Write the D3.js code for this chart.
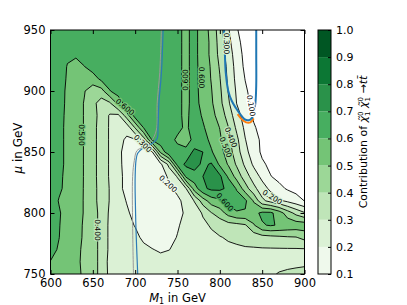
<!DOCTYPE html>
<html>
<head>
<meta charset="utf-8">
<script src="https://cdn.jsdelivr.net/npm/d3@7"></script>
<style>
    body { margin: 0; background: #fff; }
    text { font-family: "DejaVu Sans", sans-serif; }
</style>
</head>
<body>
<script>
(function(){

    //grid of the scan: M1 columns and mu rows (top row first)
    var m1Grid = [600, 610, 620, 630, 640, 650, 660, 670, 680, 690, 700, 710, 720, 730, 740, 750,
        760, 770, 780, 790, 800, 810, 820, 830, 840, 850, 860, 870, 880, 890, 900];
    var muGrid = [950, 940, 930, 920, 910, 900, 890, 880, 870, 860, 850, 840, 830, 820, 810, 800,
        790, 780, 770, 760, 750];

    //contribution of chi chi -> tt, one row per mu value
    var contribution = [
        [0.65,0.65,0.65,0.65,0.65,0.65,0.65,0.65,0.65,0.65,0.65,0.65,0.65,0.65,0.65,0.62,0.58,0.63,0.55,0.47,0.35,0.21,0.11,0.04,0.03,0.03,0.03,0.03,0.03,0.03,0.03],
        [0.65,0.65,0.65,0.65,0.65,0.65,0.65,0.65,0.65,0.65,0.65,0.65,0.65,0.65,0.65,0.62,0.58,0.63,0.55,0.48,0.36,0.23,0.13,0.06,0.03,0.03,0.03,0.03,0.03,0.03,0.03],
        [0.65,0.65,0.615,0.615,0.64,0.65,0.65,0.65,0.65,0.65,0.65,0.65,0.65,0.65,0.65,0.62,0.58,0.63,0.55,0.48,0.37,0.25,0.15,0.07,0.04,0.03,0.03,0.03,0.03,0.03,0.03],
        [0.66,0.65,0.595,0.565,0.598,0.65,0.65,0.65,0.65,0.65,0.65,0.65,0.65,0.65,0.65,0.62,0.58,0.63,0.556,0.49,0.39,0.27,0.16,0.08,0.04,0.03,0.03,0.03,0.03,0.03,0.03],
        [0.66,0.645,0.59,0.55,0.51,0.55,0.625,0.65,0.65,0.65,0.65,0.65,0.65,0.65,0.65,0.62,0.58,0.63,0.56,0.495,0.405,0.28,0.17,0.097,0.05,0.03,0.03,0.03,0.03,0.03,0.03],
        [0.66,0.635,0.585,0.545,0.505,0.45,0.46,0.595,0.65,0.65,0.65,0.65,0.65,0.65,0.65,0.62,0.58,0.63,0.565,0.505,0.42,0.295,0.185,0.115,0.06,0.04,0.03,0.03,0.03,0.03,0.03],
        [0.66,0.63,0.585,0.54,0.495,0.43,0.355,0.385,0.53,0.655,0.65,0.65,0.65,0.65,0.65,0.62,0.58,0.63,0.573,0.514,0.43,0.317,0.197,0.13,0.075,0.05,0.03,0.03,0.03,0.03,0.03],
        [0.66,0.63,0.58,0.54,0.495,0.43,0.37,0.29,0.28,0.45,0.65,0.65,0.65,0.65,0.65,0.62,0.58,0.64,0.59,0.532,0.46,0.36,0.239,0.154,0.087,0.06,0.045,0.03,0.03,0.03,0.03],
        [0.66,0.625,0.58,0.54,0.495,0.43,0.36,0.29,0.235,0.235,0.41,0.605,0.65,0.66,0.66,0.63,0.58,0.65,0.61,0.56,0.497,0.403,0.28,0.178,0.11,0.07,0.05,0.03,0.03,0.03,0.03],
        [0.66,0.625,0.58,0.54,0.495,0.43,0.36,0.29,0.23,0.185,0.19,0.35,0.61,0.67,0.64,0.58,0.57,0.62,0.64,0.576,0.516,0.43,0.323,0.204,0.129,0.085,0.06,0.045,0.03,0.03,0.03],
        [0.66,0.625,0.58,0.54,0.495,0.43,0.36,0.29,0.225,0.16,0.13,0.14,0.19,0.52,0.68,0.64,0.62,0.73,0.7,0.61,0.538,0.45,0.343,0.231,0.146,0.084,0.065,0.05,0.04,0.03,0.03],
        [0.66,0.625,0.58,0.54,0.495,0.43,0.36,0.29,0.225,0.165,0.13,0.12,0.13,0.18,0.33,0.64,0.72,0.74,0.68,0.71,0.58,0.49,0.384,0.279,0.182,0.114,0.08,0.06,0.05,0.04,0.035],
        [0.66,0.62,0.575,0.54,0.495,0.43,0.36,0.29,0.23,0.17,0.13,0.12,0.12,0.14,0.22,0.31,0.62,0.66,0.7,0.74,0.72,0.585,0.46,0.347,0.253,0.173,0.103,0.075,0.06,0.05,0.04],
        [0.66,0.615,0.575,0.535,0.495,0.43,0.365,0.295,0.23,0.17,0.13,0.12,0.12,0.13,0.18,0.225,0.295,0.55,0.68,0.72,0.72,0.68,0.59,0.447,0.329,0.244,0.178,0.124,0.09,0.07,0.055],
        [0.65,0.595,0.565,0.53,0.495,0.43,0.365,0.295,0.245,0.195,0.14,0.12,0.12,0.12,0.14,0.18,0.23,0.305,0.45,0.55,0.58,0.64,0.65,0.62,0.49,0.322,0.265,0.22,0.178,0.14,0.098],
        [0.64,0.61,0.56,0.53,0.495,0.44,0.37,0.285,0.25,0.215,0.17,0.14,0.13,0.13,0.14,0.17,0.215,0.25,0.31,0.395,0.45,0.54,0.59,0.59,0.57,0.62,0.62,0.55,0.45,0.37,0.31],
        [0.64,0.605,0.56,0.53,0.49,0.44,0.37,0.28,0.25,0.23,0.195,0.16,0.15,0.15,0.16,0.19,0.23,0.26,0.28,0.31,0.34,0.36,0.37,0.39,0.49,0.59,0.61,0.59,0.57,0.56,0.56],
        [0.64,0.602,0.555,0.525,0.49,0.44,0.37,0.28,0.255,0.24,0.225,0.18,0.15,0.15,0.17,0.205,0.24,0.26,0.27,0.28,0.295,0.31,0.32,0.33,0.34,0.36,0.37,0.38,0.39,0.395,0.43],
        [0.63,0.59,0.55,0.52,0.485,0.44,0.37,0.28,0.26,0.25,0.24,0.225,0.205,0.185,0.198,0.22,0.245,0.26,0.265,0.27,0.275,0.28,0.285,0.29,0.29,0.29,0.29,0.29,0.29,0.29,0.29],
        [0.597,0.57,0.545,0.515,0.485,0.44,0.37,0.27,0.26,0.255,0.25,0.245,0.24,0.24,0.24,0.245,0.25,0.255,0.26,0.26,0.265,0.265,0.27,0.27,0.27,0.27,0.27,0.275,0.275,0.28,0.28],
        [0.57,0.555,0.535,0.515,0.49,0.44,0.37,0.275,0.26,0.255,0.25,0.25,0.25,0.25,0.25,0.25,0.25,0.255,0.26,0.26,0.265,0.265,0.27,0.27,0.275,0.28,0.29,0.305,0.315,0.32,0.33]
    ];

    //contour levels and tick labels
    var levels = [0.1, 0.2, 0.3, 0.4, 0.5, 0.6, 0.7, 0.8, 0.9, 1.0];
    var xTicks = [600, 650, 700, 750, 800, 850, 900];
    var yTicks = [750, 800, 850, 900, 950];

    //overlaid constraint curves (M1, mu)
    var blueLine = [[733,950],[731,915],[728,890],[727,870],[726,861],[720,857],[709,853],[703,849],
        [701,843],[700,830],[700,816],[701,786],[703,750]];
    var grayLine = [[731,950],[729,915],[726,890],[725,868],[719,859],[709,854],[702,851],
        [699,843],[697,830],[697,790],[698,750]];
    var blueU = [[805,950],[806,930],[807,915],[810,900],[814,892],[819,886],[824,881],[829,877],
        [834,876],[838,878],[840,882],[842,890],[843,905],[843,930],[843,950]];
    var orangeArc = [[821,881],[826,876.8],[831,874.3],[836,874.3],[840,877.5]];

    //inline contour labels: text, M1, mu, angle
    var contourLabels = [
        ["0.600", 688, 887, 40], ["0.300", 709, 857, 45], ["0.500", 637, 864, 90],
        ["0.400", 656, 786, 90], ["0.200", 739, 824, 42], ["0.600", 759, 909, -90],
        ["0.600", 779, 911, 90], ["0.300", 808, 939, 90], ["0.100", 837, 888, 80],
        ["0.400", 813, 862, 68], ["0.500", 807, 854, 68], ["0.600", 806, 809, 48],
        ["0.200", 862, 813, 32]
    ];

    var width = 407, height = 305;
    var left = 50.5, right = 304.5, top = 30, bottom = 274;

    var svg = d3.select("body").append("svg")
        .attr("width", width)
        .attr("height", height);

    var x = d3.scaleLinear().domain([600, 900]).range([left, right]);
    var y = d3.scaleLinear().domain([750, 950]).range([bottom, top]);

    //matplotlib Greens
    var greens = ["#f7fcf5","#e5f5e0","#c7e9c0","#a1d99b","#74c476","#41ab5d","#238b45","#006d2c","#00441b"];
    var cmap = d3.scaleLinear()
        .domain(greens.map(function(d, i){ return i / 8; }))
        .range(greens)
        .interpolate(d3.interpolateRgb);
    var norm = d3.scaleLinear().domain([levels[0], levels[levels.length - 1]]);
    function bandColor(i){
        return cmap(norm((levels[i] + levels[i + 1]) / 2));
    }

    svg.append("defs").append("clipPath").attr("id", "plotClip")
        .append("rect")
        .attr("x", left).attr("y", top)
        .attr("width", right - left).attr("height", bottom - top);

    //grid -> screen
    var nx = m1Grid.length, ny = muGrid.length;
    var dM1 = m1Grid[1] - m1Grid[0], dMu = muGrid[1] - muGrid[0];
    var gridProj = d3.geoTransform({
        point: function(cx, cy){
            this.stream.point(x(m1Grid[0] + (cx - 0.5) * dM1), y(muGrid[0] + (cy - 0.5) * dMu));
        }
    });
    var path = d3.geoPath(gridProj);

    var flat = [];
    contribution.forEach(function(row){ flat = flat.concat(row); });

    var bands = d3.contours()
        .size([nx, ny])
        .thresholds(levels.slice(0, -1))(flat);

    var plot = svg.append("g").attr("clip-path", "url(#plotClip)");

    plot.selectAll(".band")
        .data(bands)
        .enter()
        .append("path")
        .attr("class", "band")
        .attr("d", path)
        .attr("fill", function(d, i){ return bandColor(i); });

    plot.selectAll(".cline")
        .data(bands)
        .enter()
        .append("path")
        .attr("class", "cline")
        .attr("d", path)
        .attr("fill", "none")
        .attr("stroke", "#000")
        .attr("stroke-width", 0.9);

    //constraint curves
    var line = d3.line()
        .x(function(d){ return x(d[0]); })
        .y(function(d){ return y(d[1]); })
        .curve(d3.curveCatmullRom);

    plot.append("path").datum(grayLine).attr("d", line)
        .attr("fill", "none").attr("stroke", "#999").attr("stroke-width", 1);
    plot.append("path").datum(blueLine).attr("d", line)
        .attr("fill", "none").attr("stroke", "#2c7bb6").attr("stroke-width", 1.2);
    plot.append("path").datum(orangeArc).attr("d", line)
        .attr("fill", "none").attr("stroke", "#ff7f0e").attr("stroke-width", 2);
    plot.append("path").datum(blueU).attr("d", line)
        .attr("fill", "none").attr("stroke", "#1f77b4").attr("stroke-width", 2);

    //bilinear look-up, used to colour the label backgrounds
    function valueAt(m1, mu){
        var fx = Math.max(0, Math.min(nx - 1.001, (m1 - m1Grid[0]) / dM1));
        var fy = Math.max(0, Math.min(ny - 1.001, (mu - muGrid[0]) / dMu));
        var i = Math.floor(fx), j = Math.floor(fy), tx = fx - i, ty = fy - j;
        var a = contribution[j][i], b = contribution[j][i + 1],
            c = contribution[j + 1][i], d = contribution[j + 1][i + 1];
        return (a * (1 - tx) + b * tx) * (1 - ty) + (c * (1 - tx) + d * tx) * ty;
    }
    function colorAt(m1, mu){
        var v = valueAt(m1, mu);
        if (v < levels[0]) return "#fff";
        var i = Math.min(levels.length - 2, Math.floor((v - levels[0]) / 0.1 + 1e-9));
        return bandColor(i);
    }

    plot.selectAll(".clabel")
        .data(contourLabels)
        .enter()
        .append("text")
        .attr("class", "clabel")
        .attr("transform", function(d){
            return "translate(" + x(d[1]) + "," + y(d[2]) + ") rotate(" + d[3] + ")";
        })
        .attr("text-anchor", "middle")
        .attr("dy", "0.35em")
        .attr("font-size", 7.5)
        .attr("fill", "#000")
        .attr("stroke", function(d){ return colorAt(d[1], d[2]); })
        .attr("stroke-width", 2.5)
        .attr("paint-order", "stroke")
        .text(function(d){ return d[0]; });

    //axes, classic inward ticks on all sides
    var axes = svg.append("g");

    var xb = axes.append("g").attr("transform", "translate(0," + bottom + ")")
        .call(d3.axisBottom(x).tickValues(xTicks).tickSize(-4).tickPadding(5));
    var xt = axes.append("g").attr("transform", "translate(0," + top + ")")
        .call(d3.axisTop(x).tickValues(xTicks).tickSize(-4).tickFormat(""));
    var yl = axes.append("g").attr("transform", "translate(" + left + ",0)")
        .call(d3.axisLeft(y).tickValues(yTicks).tickSize(-4).tickPadding(5));
    var yr = axes.append("g").attr("transform", "translate(" + right + ",0)")
        .call(d3.axisRight(y).tickValues(yTicks).tickSize(-4).tickFormat(""));
    [xb, xt, yl, yr].forEach(function(g){
        g.select(".domain").remove();
        g.selectAll("text").attr("font-family", "DejaVu Sans").attr("font-size", 11.5).attr("fill", "#000");
        g.selectAll("line").attr("stroke", "#000");
    });

    svg.append("rect")
        .attr("x", left).attr("y", top)
        .attr("width", right - left).attr("height", bottom - top)
        .attr("fill", "none").attr("stroke", "#000").attr("stroke-width", 1);

    //axis titles
    var xTitle = svg.append("text")
        .attr("x", (left + right) / 2).attr("y", 301.5)
        .attr("text-anchor", "middle").attr("font-size", 11.5);
    xTitle.append("tspan").attr("font-style", "italic").text("M");
    xTitle.append("tspan").attr("font-size", 8).attr("dy", 2).text("1");
    xTitle.append("tspan").attr("dy", -2).text("  in GeV");

    var yTitle = svg.append("text")
        .attr("transform", "translate(22,148) rotate(-90)")
        .attr("text-anchor", "middle").attr("font-size", 12);
    yTitle.append("tspan").attr("font-style", "italic").text("\u03bc");
    yTitle.append("tspan").text(" in GeV");

    //colour bar
    var cbLeft = 318, cbWidth = 13;
    var cb = d3.scaleLinear().domain([levels[0], levels[levels.length - 1]]).range([bottom, top]);

    svg.selectAll(".cbar")
        .data(levels.slice(0, -1))
        .enter()
        .append("rect")
        .attr("class", "cbar")
        .attr("x", cbLeft)
        .attr("y", function(d, i){ return cb(levels[i + 1]); })
        .attr("width", cbWidth)
        .attr("height", function(d, i){ return cb(levels[i]) - cb(levels[i + 1]); })
        .attr("fill", function(d, i){ return bandColor(i); });

    var cbAxis = svg.append("g").attr("transform", "translate(" + (cbLeft + cbWidth) + ",0)")
        .call(d3.axisRight(cb).tickValues(levels).tickSize(-3).tickPadding(5).tickFormat(d3.format(".1f")));
    cbAxis.select(".domain").remove();
    cbAxis.selectAll("text").attr("font-family", "DejaVu Sans").attr("font-size", 11).attr("fill", "#000");
    cbAxis.selectAll("line").attr("stroke", "#000");

    svg.append("rect")
        .attr("x", cbLeft).attr("y", top)
        .attr("width", cbWidth).attr("height", bottom - top)
        .attr("fill", "none").attr("stroke", "#000").attr("stroke-width", 1);

    var cbTitle = svg.append("text")
        .attr("transform", "translate(367,142) rotate(-90)")
        .attr("text-anchor", "middle").attr("font-size", 11);
    cbTitle.append("tspan").text("Contribution of ");
    [0, 1].forEach(function(k){
        cbTitle.append("tspan").attr("font-style", "italic").attr("dy", k ? -2.5 : 0).text((k ? " " : "") + "\u03c7\u0303");
        cbTitle.append("tspan").attr("font-size", 7).attr("dy", -4).text("0");
        cbTitle.append("tspan").attr("font-size", 7).attr("dx", -4.5).attr("dy", 6.5).text("1");
    });
    cbTitle.append("tspan").attr("dy", -2.5).text(" \u2192");
    cbTitle.append("tspan").attr("font-style", "italic").text("t");
    cbTitle.append("tspan").attr("font-style", "italic").text("t\u0304");

})();
</script>
</body>
</html>
